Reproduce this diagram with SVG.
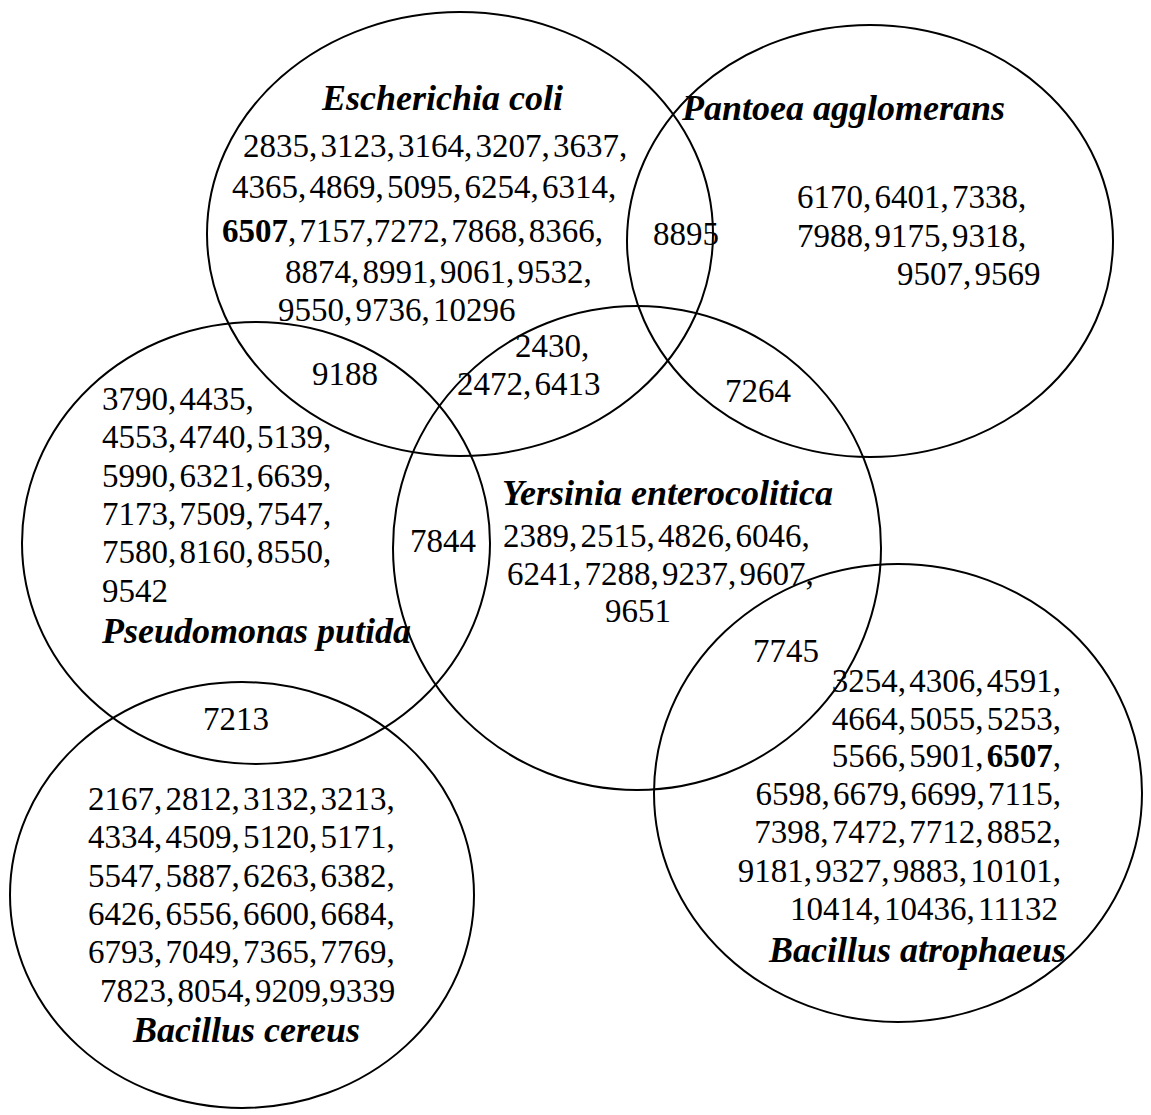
<svg xmlns="http://www.w3.org/2000/svg" width="1151" height="1115" viewBox="0 0 1151 1115">
<style>
.set{fill:none;stroke:#000;stroke-width:2}
text{font-family:"Liberation Serif","Times New Roman",serif;fill:#000}
.n{font-size:33px;word-spacing:-5px}
.t{font-size:36px;font-weight:bold;font-style:italic}
.b{font-weight:bold}
.e{text-anchor:end}
</style>
<rect width="1151" height="1115" fill="#fff"/>
<g id="ecoli">
<ellipse class="set" cx="460" cy="234" rx="253" ry="222"/>
<text class="t" x="322" y="110">Escherichia coli</text>
<text class="n" x="243" y="157">2835, 3123, 3164, 3207, 3637,</text>
<text class="n" x="232" y="198">4365, 4869, 5095, 6254, 6314,</text>
<text class="n" x="222" y="242"><tspan class="b">6507</tspan>, 7157,7272, 7868, 8366,</text>
<text class="n" x="285" y="283">8874, 8991, 9061, 9532,</text>
<text class="n" x="278" y="321">9550, 9736, 10296</text>
</g>
<g id="pantoea">
<ellipse class="set" cx="870" cy="241" rx="243" ry="216"/>
<text class="t" x="682" y="120">Pantoea agglomerans</text>
<text class="n" x="797" y="208">6170, 6401, 7338,</text>
<text class="n" x="797" y="247">7988, 9175, 9318,</text>
<text class="n" x="897" y="285">9507, 9569</text>
</g>
<g id="pseudomonas">
<ellipse class="set" cx="256" cy="543" rx="234" ry="221"/>
<text class="n" x="102" y="410">3790, 4435,</text>
<text class="n" x="102" y="448">4553, 4740, 5139,</text>
<text class="n" x="102" y="487">5990, 6321, 6639,</text>
<text class="n" x="102" y="525">7173, 7509, 7547,</text>
<text class="n" x="102" y="563">7580, 8160, 8550,</text>
<text class="n" x="102" y="602">9542</text>
<text class="t" x="102" y="643">Pseudomonas putida</text>
</g>
<g id="yersinia">
<ellipse class="set" cx="637" cy="548" rx="244" ry="242"/>
<text class="t" x="502" y="505">Yersinia enterocolitica</text>
<text class="n" x="503" y="547">2389, 2515, 4826, 6046,</text>
<text class="n" x="507" y="585">6241, 7288, 9237, 9607,</text>
<text class="n" x="605" y="622">9651</text>
</g>
<g id="atrophaeus">
<ellipse class="set" cx="898" cy="793" rx="244" ry="229"/>
<text class="n e" x="1061" y="692">3254, 4306, 4591,</text>
<text class="n e" x="1061" y="730">4664, 5055, 5253,</text>
<text class="n e" x="1061" y="767">5566, 5901, <tspan class="b">6507</tspan>,</text>
<text class="n e" x="1061" y="805">6598, 6679, 6699, 7115,</text>
<text class="n e" x="1061" y="843">7398, 7472, 7712, 8852,</text>
<text class="n e" x="1061" y="882">9181, 9327, 9883, 10101,</text>
<text class="n e" x="1058" y="920">10414, 10436, 11132</text>
<text class="t e" x="1066" y="962">Bacillus atrophaeus</text>
</g>
<g id="cereus">
<ellipse class="set" cx="242" cy="895" rx="232" ry="213"/>
<text class="n" x="88" y="810">2167, 2812, 3132, 3213,</text>
<text class="n" x="88" y="848">4334, 4509, 5120, 5171,</text>
<text class="n" x="88" y="887">5547, 5887, 6263, 6382,</text>
<text class="n" x="88" y="925">6426, 6556, 6600, 6684,</text>
<text class="n" x="88" y="963">6793, 7049, 7365, 7769,</text>
<text class="n" x="100" y="1002">7823, 8054, 9209,9339</text>
<text class="t" x="133" y="1042">Bacillus cereus</text>
</g>
<g id="overlaps">
<text class="n" x="653" y="245">8895</text>
<text class="n" x="312" y="385">9188</text>
<text class="n" x="515" y="357">2430,</text>
<text class="n" x="457" y="395">2472, 6413</text>
<text class="n" x="725" y="402">7264</text>
<text class="n" x="410" y="552">7844</text>
<text class="n" x="753" y="662">7745</text>
<text class="n" x="203" y="730">7213</text>
</g>
</svg>
